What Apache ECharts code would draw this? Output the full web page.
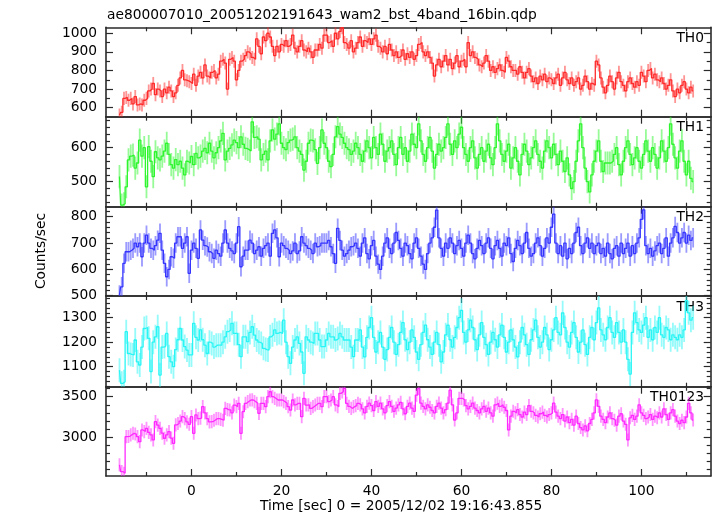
<!DOCTYPE html>
<html><head><meta charset="utf-8">
<script src="https://cdn.jsdelivr.net/npm/echarts@6/dist/echarts.min.js"></script>
<style>html,body{margin:0;padding:0;background:#fff}#c{width:717px;height:516px}</style>
</head><body><div id="c"></div>
<script>
// time bins: start and width (seconds)
const T_START = -16, BIN = 0.5;

const th0 = [
560,575,650,655, 640,650,620,660,
615,620,615,640, 650,690,700,730,
670,700,690,660, 700,680,710,690,
660,680,720,760, 800,750,745,740,
730,780,720,770, 790,760,830,770,
760,790,800,760, 780,850,860,840,
700,860,870,850, 750,800,850,860,
880,900,890,870, 860,970,930,890,
980,960,1000,980, 930,880,930,900,
940,930,960,930, 940,990,920,900,
930,960,910,900, 920,900,870,910,
910,940,920,990, 990,950,960,930,
1000,970,1010,1030, 950,940,920,960,
900,920,950,980, 930,960,950,970,
940,970,990,930, 920,900,930,890,
940,910,880,900, 870,880,910,860,
890,870,900,860, 880,940,950,900,
880,900,870,840, 770,830,860,820,
850,880,830,860, 810,840,880,820,
850,860,820,950, 880,900,870,860,
830,820,840,880, 850,800,820,790,
810,830,800,790, 870,850,820,800,
800,780,820,790, 760,790,810,770,
740,760,730,770, 750,780,740,760,
750,730,760,780, 720,760,790,750,
730,760,720,740, 760,700,720,770,
740,700,730,720, 850,830,760,710,
680,720,770,740, 700,760,790,740,
720,690,740,760, 730,710,740,720,
790,770,740,800, 810,760,780,750,
740,760,730,700, 720,750,690,660,
700,680,720,740, 700,680,710,690
];

const th1 = [
515,431,435,485, 564,575,578,540,
555,622,575,600, 485,603,560,515,
588,570,564,575, 590,613,580,550,
540,565,550,560, 540,520,560,555,
574,550,583,570, 575,590,598,585,
613,590,570,585, 600,620,642,564,
590,598,608,622, 615,600,632,610,
598,595,590,676, 630,632,625,564,
580,590,564,620, 652,625,640,670,
613,600,594,615, 622,625,632,600,
590,580,534,560, 613,622,620,594,
554,600,652,613, 600,560,544,580,
632,662,640,630, 613,600,594,580,
590,613,600,580, 560,590,620,600,
570,630,600,580, 640,610,560,590,
600,620,580,550, 600,630,580,600,
560,590,640,610, 600,670,620,580,
560,600,630,590, 540,580,610,590,
600,630,670,610, 580,620,600,640,
660,600,580,560, 600,620,570,540,
580,600,560,590, 610,570,550,600,
670,620,580,560, 590,610,540,570,
600,560,520,580, 610,590,550,570,
600,620,580,560, 540,590,620,600,
570,610,580,550, 590,560,530,570,
520,480,500,560, 620,670,600,540,
500,470,520,560, 590,620,560,530,
555,555,555,560, 580,600,550,520,
560,600,620,580, 550,570,600,560,
540,580,620,590, 560,600,580,540,
570,620,590,560, 600,670,610,570,
540,590,620,560, 520,560,510,500
];

const th2 = [
503,534,623,667, 667,673,680,700,
686,700,648,700, 730,700,680,673,
690,711,737,673, 623,572,600,648,
642,700,724,724, 680,700,724,585,
673,700,680,642, 750,711,690,685,
667,660,642,673, 660,650,700,750,
700,680,670,660, 700,762,610,650,
673,673,711,700, 660,673,686,650,
680,690,700,650, 737,750,720,648,
700,690,680,673, 660,670,700,660,
670,724,700,690, 680,673,660,700,
686,690,700,700, 700,710,686,660,
623,756,710,673, 650,660,673,686,
690,700,680,650, 700,720,660,640,
690,710,650,620, 600,650,700,720,
680,660,700,740, 710,680,650,700,
690,660,640,700, 720,680,650,620,
600,660,700,720, 760,825,720,680,
650,700,680,720, 700,660,690,710,
680,650,700,730, 700,660,640,680,
710,690,660,700, 720,680,640,690,
710,680,650,700, 690,720,660,630,
680,710,690,660, 700,740,680,650,
660,700,720,690, 650,680,720,700,
760,810,700,660, 690,650,700,640,
680,660,700,740, 760,690,660,700,
720,680,700,660, 690,700,660,680,
650,700,660,640, 680,690,650,700,
660,680,700,650, 690,660,700,720,
790,826,690,660, 680,650,670,690,
700,660,680,720, 650,700,720,763,
740,700,720,740, 700,730,710,720
];

const th3 = [
1086,1032,1039,1243, 1154,1150,1148,1209,
1120,1107,1180,1256, 1260,1216,1080,1200,
1222,1263,1066,1180, 1182,1236,1141,1120,
1100,1170,1210,1256, 1209,1182,1168,1148,
1148,1277,1220,1209, 1250,1210,1188,1154,
1200,1195,1180,1188, 1188,1188,1200,1222,
1243,1250,1277,1236, 1236,1190,1141,1222,
1222,1202,1240,1263, 1229,1209,1200,1195,
1175,1170,1168,1222, 1230,1250,1236,1240,
1236,1290,1200,1141, 1114,1180,1209,1222,
1195,1160,1073,1222, 1209,1200,1195,1236,
1236,1209,1182,1182, 1209,1236,1222,1222,
1209,1215,1236,1222, 1209,1209,1209,1180,
1141,1209,1209,1250, 1180,1140,1220,1260,
1300,1220,1160,1200, 1240,1180,1130,1170,
1220,1260,1200,1150, 1190,1240,1280,1210,
1170,1200,1250,1220, 1160,1130,1190,1240,
1270,1210,1180,1150, 1200,1240,1190,1120,
1160,1230,1270,1210, 1180,1220,1260,1300,
1330,1240,1200,1250, 1290,1260,1210,1170,
1230,1280,1220,1190, 1150,1200,1240,1210,
1180,1230,1270,1220, 1160,1200,1250,1210,
1180,1140,1200,1260, 1230,1190,1150,1210,
1250,1290,1220,1180, 1200,1260,1230,1170,
1210,1250,1300,1240, 1230,1320,1260,1200,
1180,1240,1280,1220, 1160,1200,1250,1190,
1150,1220,1260,1210, 1280,1340,1250,1230,
1210,1260,1300,1240, 1220,1280,1240,1200,
1250,1200,1130,1070, 1240,1320,1280,1250,
1240,1270,1300,1220, 1250,1210,1260,1240,
1300,1230,1220,1260, 1250,1210,1230,1220,
1210,1230,1220,1250, 1370,1320,1290,1300
];

const th0123 = [
2660,2578,2557,3008, 3010,3030,3049,3040,
3008,2946,3090,3070, 3110,3060,3030,2967,
3192,3150,3110,3050, 2988,3030,3070,2990,
2926,3152,3170,3200, 3254,3230,3190,3160,
3254,3049,3275,3230, 3235,3377,3300,3230,
3190,3192,3210,3230, 3230,3220,3210,3356,
3340,3336,3300,3397, 3377,3418,3049,3315,
3418,3440,3459,3460, 3440,3418,3295,3418,
3418,3377,3500,3561, 3500,3480,3459,3459,
3459,3440,3418,3377, 3336,3459,3400,3418,
3418,3254,3480,3397, 3400,3356,3377,3397,
3418,3418,3377,3500, 3500,3440,3459,3500,
3400,3377,3541,3560, 3602,3418,3380,3356,
3377,3390,3418,3400, 3350,3300,3380,3420,
3390,3330,3440,3380, 3420,3350,3300,3390,
3440,3380,3320,3360, 3400,3430,3350,3290,
3380,3420,3360,3320, 3520,3600,3420,3380,
3350,3400,3370,3330, 3300,3380,3420,3360,
3300,3340,3420,3580, 3400,3213,3300,3480,
3480,3460,3390,3350, 3380,3420,3360,3330,
3300,3350,3380,3320, 3360,3300,3260,3400,
3420,3380,3400,3370, 3330,3090,3260,3320,
3300,3340,3280,3250, 3310,3280,3390,3320,
3300,3270,3250,3290, 3310,3270,3250,3280,
3300,3420,3310,3260, 3230,3280,3200,3250,
3180,3220,3150,3260, 3170,3120,3090,3140,
3080,3170,3220,3300, 3460,3380,3260,3220,
3180,3250,3300,3230, 3210,3150,3260,3290,
3200,3160,2967,3240, 3270,3220,3260,3400,
3300,3270,3230,3250, 3280,3220,3260,3240,
3300,3250,3350,3280, 3220,3300,3340,3260,
3200,3170,3210,3180, 3250,3418,3300,3213
];

const panelNames = ['TH0', 'TH1', 'TH2', 'TH3', 'TH0123'];
const seriesValues = [th0, th1, th2, th3, th0123];
const errors = [35, 34, 37, 49, 81];
const yRanges = [[551.6, 1032], [426.5, 691], [499, 838], [1018.4, 1388.6], [2523, 3623]];
const yMajorTicks = [[600, 700, 800, 900, 1000], [500, 600], [500, 600, 700, 800], [1100, 1200, 1300], [3000, 3500]];
const yMinorStep = [50, 20, 20, 20, 100];
const xMajorTicks = [0, 20, 40, 60, 80, 100];
const xMinorTicks = [-10, 10, 30, 50, 70, 90, 110];
const X_MIN = -19, X_MAX = 115.4;

const colors = ['#ff2a2a', '#2ef52e', '#3535ff', '#2af5f5', '#ff2aff'];
const titleText = 'ae800007010_20051202191643_wam2_bst_4band_16bin.qdp';
const xName = 'Time [sec] 0 = 2005/12/02 19:16:43.855';
const yName = 'Counts/sec';

const FONT = 'DejaVu Sans';
const FS = 13.8;
const AX = '#2a2a2a';
const tops = [27.3, 116.7, 206.7, 296, 386.7];
const BOTTOM = 476, LEFT = 106, RIGHT = 710.7;

function minorList(r, step, majors) {
  const out = [];
  for (let v = Math.ceil(r[0] / step) * step; v <= r[1]; v += step) {
    if (!majors.includes(v)) out.push(v);
  }
  return out;
}
const plain = v => String(Math.round(v));

const grids = [], xAxes = [], yAxes = [], series = [];
for (let layer = 0; layer < 2; layer++) {
  for (let i = 0; i < 5; i++) {
    const h = (i < 4 ? tops[i + 1] : BOTTOM) - tops[i];
    grids.push({ left: LEFT, top: tops[i], width: RIGHT - LEFT, height: h });
  }
}

function xAxis(g, pos, ticks, len, showLine, showLabel) {
  return {
    type: 'value', gridIndex: g, position: pos, min: X_MIN, max: X_MAX,
    axisLine: { show: showLine, onZero: false, lineStyle: { color: AX, width: 1.6 } },
    axisTick: { show: true, inside: true, length: len, customValues: ticks, lineStyle: { color: AX, width: 1.2 } },
    axisLabel: { show: showLabel, customValues: ticks, formatter: plain, margin: 8, fontFamily: FONT, fontSize: FS, color: '#000' },
    splitLine: { show: false }
  };
}
function yAxis(g, pos, i, ticks, len, showLine, showLabel) {
  return {
    type: 'value', gridIndex: g, position: pos, min: yRanges[i][0], max: yRanges[i][1],
    axisLine: { show: showLine, onZero: false, lineStyle: { color: AX, width: 1.6 } },
    axisTick: { show: true, inside: true, length: len, customValues: ticks, lineStyle: { color: AX, width: 1.2 } },
    axisLabel: { show: showLabel, customValues: ticks, formatter: plain, margin: 9, fontFamily: FONT, fontSize: FS, color: '#000' },
    splitLine: { show: false }
  };
}

for (let i = 0; i < 5; i++) {
  const gMaj = i, gMin = 5 + i;
  const minors = minorList(yRanges[i], yMinorStep[i], yMajorTicks[i]);
  const xIdx = xAxes.length;
  xAxes.push(xAxis(gMaj, 'bottom', xMajorTicks, 7, true, i === 4));
  xAxes.push(xAxis(gMaj, 'top', xMajorTicks, 7, true, false));
  xAxes.push(xAxis(gMin, 'bottom', xMinorTicks, 4, false, false));
  xAxes.push(xAxis(gMin, 'top', xMinorTicks, 4, false, false));
  const yIdx = yAxes.length;
  yAxes.push(yAxis(gMaj, 'left', i, yMajorTicks[i], 7, true, true));
  yAxes.push(yAxis(gMaj, 'right', i, yMajorTicks[i], 7, true, false));
  yAxes.push(yAxis(gMin, 'left', i, minors, 4, false, false));
  yAxes.push(yAxis(gMin, 'right', i, minors, 4, false, false));

  const col = colors[i];
  const err = errors[i];
  const pts = seriesValues[i].map((v, k) => [T_START + k * BIN, v]);
  // error bars
  series.push({
    type: 'custom', xAxisIndex: xIdx, yAxisIndex: yIdx, clip: true, silent: true,
    data: pts,
    renderItem: function (params, api) {
      const t = api.value(0), v = api.value(1);
      const lo = api.coord([t, v - err]), hi = api.coord([t, v + err]);
      return { type: 'line', shape: { x1: lo[0], y1: lo[1], x2: hi[0], y2: hi[1] }, style: { stroke: col, opacity: 0.5, lineWidth: 1.8 } };
    }
  });
  // binned step line
  series.push({
    type: 'line', xAxisIndex: xIdx, yAxisIndex: yIdx, data: pts, step: 'middle',
    showSymbol: false, silent: true, clip: true,
    lineStyle: { color: col, width: 1.3 }
  });
}

const graphics = [
  { type: 'text', x: 107, y: 15.5, style: { text: titleText, font: FS + 'px "' + FONT + '"', fill: '#000', textAlign: 'left', textVerticalAlign: 'middle' } },
  { type: 'text', x: 260, y: 506, style: { text: xName, font: FS + 'px "' + FONT + '"', fill: '#000', textAlign: 'left', textVerticalAlign: 'middle' } },
  { type: 'text', x: 41, y: 251, rotation: Math.PI / 2, style: { text: yName, font: FS + 'px "' + FONT + '"', fill: '#000', textAlign: 'center', textVerticalAlign: 'middle' } }
];
for (let i = 0; i < 5; i++) {
  graphics.push({ type: 'text', x: 704, y: tops[i] + 11, style: { text: panelNames[i], font: FS + 'px "' + FONT + '"', fill: '#000', textAlign: 'right', textVerticalAlign: 'middle' } });
}

const chart = echarts.init(document.getElementById('c'));
chart.setOption({
  animation: false,
  backgroundColor: '#fff',
  grid: grids,
  xAxis: xAxes,
  yAxis: yAxes,
  series: series,
  graphic: graphics
});
</script>
</body></html>
